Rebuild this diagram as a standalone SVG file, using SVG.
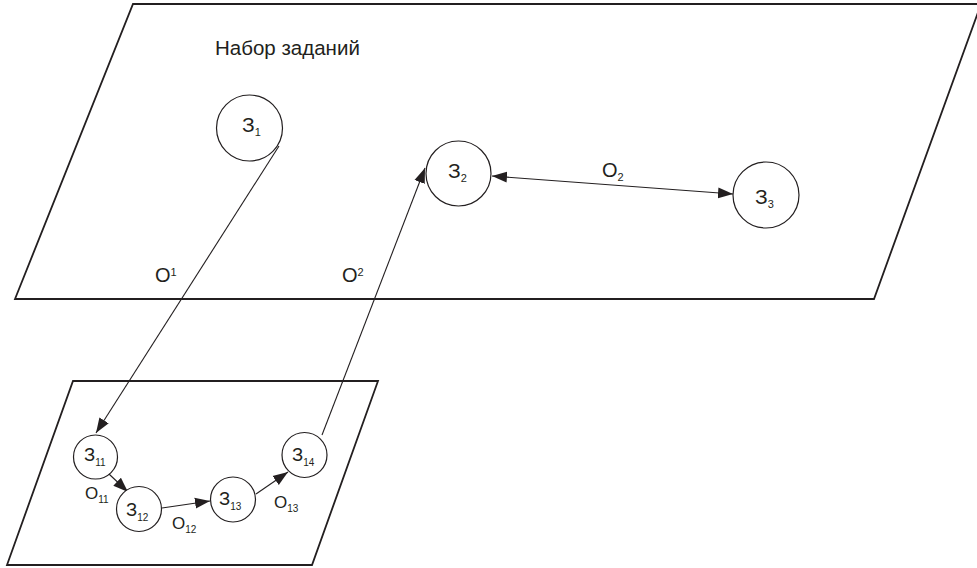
<svg xmlns="http://www.w3.org/2000/svg" width="977" height="568" viewBox="0 0 977 568">
<style>
.plane{fill:none;stroke:#231f20;stroke-width:1.8}
.node{fill:#fff;stroke:#231f20;stroke-width:1.2}
.edge{fill:none;stroke:#231f20;stroke-width:1.1}
text{font-family:"Liberation Sans",Arial,sans-serif;fill:#231f20}
.title{font-size:20.5px}
.big{font-size:21px}
.obig{font-size:20px}
.sm{font-size:18.5px}
.osm{font-size:17px}
.sub{font-size:11px}
.sup{font-size:11px}
.sub2{font-size:10px}
</style>
<defs>
<marker id="ah" markerUnits="userSpaceOnUse" markerWidth="16" markerHeight="12" refX="15" refY="5.5" orient="auto-start-reverse" viewBox="0 0 16 11">
<path d="M0,0 L15,5.5 L0,11 Z" fill="#231f20"/>
</marker>
</defs>
<rect width="977" height="568" fill="#fff"/>
<g id="plane-top"><polygon class="plane" points="133,4 981,4 874,299 15,299"/></g>
<g id="plane-bottom"><polygon class="plane" points="73,381 378,381 312,565 7,565"/></g>
<text class="title" x="215" y="55">Набор заданий</text>
<g id="connectors">
<line class="edge" x1="279" y1="146" x2="96" y2="433" marker-end="url(#ah)"/>
<line class="edge" x1="322" y1="435" x2="425" y2="168" marker-end="url(#ah)"/>
<line class="edge" x1="492" y1="176" x2="733" y2="194" marker-start="url(#ah)" marker-end="url(#ah)"/>
<line class="edge" x1="109" y1="474" x2="128" y2="492" marker-end="url(#ah)"/>
<line class="edge" x1="162" y1="508" x2="210" y2="501" marker-end="url(#ah)"/>
<line class="edge" x1="256" y1="494" x2="288" y2="472" marker-end="url(#ah)"/>
</g>
<g id="edge-labels">
<text class="obig" x="155" y="282">О<tspan class="sup" dy="-6">1</tspan></text>
<text class="obig" x="342" y="282">О<tspan class="sup" dy="-6">2</tspan></text>
<text class="obig" x="602" y="177">О<tspan class="sub" dy="4">2</tspan></text>
<text class="osm" x="85" y="499">О<tspan class="sub2" dy="4">11</tspan></text>
<text class="osm" x="172" y="529">О<tspan class="sub2" dy="4">12</tspan></text>
<text class="osm" x="274" y="508">О<tspan class="sub2" dy="4">13</tspan></text>
</g>
<g id="z1"><circle class="node" cx="249.5" cy="128" r="33"/><text class="big" x="242" y="132">З<tspan class="sub" dy="4">1</tspan></text></g>
<g id="z2"><circle class="node" cx="458.5" cy="173.5" r="32.5"/><text class="big" x="448" y="178">З<tspan class="sub" dy="4">2</tspan></text></g>
<g id="z3"><circle class="node" cx="766" cy="195" r="33"/><text class="big" x="755" y="204">З<tspan class="sub" dy="4">3</tspan></text></g>
<g id="z11"><circle class="node" cx="95.5" cy="457" r="22"/><text class="sm" x="84" y="461">З<tspan class="sub2" dy="5">11</tspan></text></g>
<g id="z12"><circle class="node" cx="139" cy="509" r="22.5"/><text class="sm" x="126" y="516">З<tspan class="sub2" dy="5">12</tspan></text></g>
<g id="z13"><circle class="node" cx="233" cy="499.5" r="22.5"/><text class="sm" x="219" y="505">З<tspan class="sub2" dy="5">13</tspan></text></g>
<g id="z14"><circle class="node" cx="304.5" cy="455" r="22.5"/><text class="sm" x="292" y="461">З<tspan class="sub2" dy="5">14</tspan></text></g>
</svg>
